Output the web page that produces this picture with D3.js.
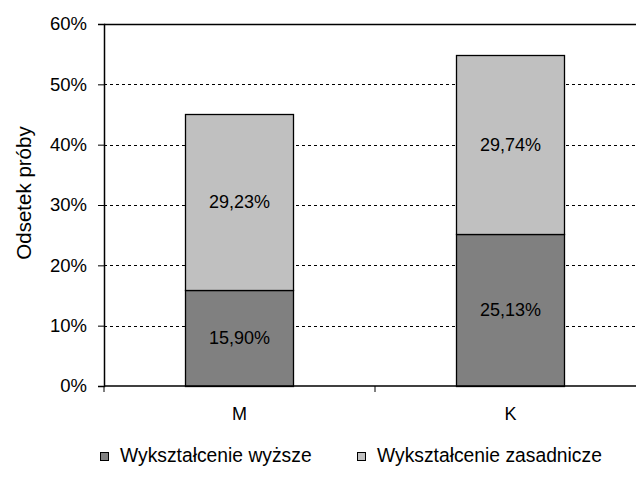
<!DOCTYPE html>
<html>
<head>
<meta charset="utf-8">
<script src="https://cdn.jsdelivr.net/npm/d3@7"></script>
<style>
    body { margin: 0; background: #fff; }
    svg { display: block; font-family: Arial, "Liberation Sans", sans-serif; }
</style>
</head>
<body>
<svg id="chart"></svg>
<script>
// data
var categories = ['M', 'K'];
var seriesNames = ['Wykształcenie wyższe', 'Wykształcenie zasadnicze'];
var higherValues = [15.90, 25.13];
var vocationalValues = [29.23, 29.74];
var yTicks = [0, 10, 20, 30, 40, 50, 60];
var seriesColors = ['#808080', '#c0c0c0'];

var svgWidth = 636;
var svgHeight = 482;
var margin = { top: 24, left: 104, bottom: 96 };
var plotRight = 646; // frame runs past the right edge of the picture

var svg = d3.select('svg#chart')
    .attr('width', svgWidth)
    .attr('height', svgHeight);

var x = d3.scaleBand()
    .domain(categories)
    .range([margin.left, plotRight])
    .paddingInner(0.6)
    .paddingOuter(0.3);

var bandX = d3.scaleBand()
    .domain(categories)
    .range([margin.left, plotRight]);

var y = d3.scaleLinear()
    .domain([0, 60])
    .range([svgHeight - margin.bottom, margin.top]);

// gridlines
svg.append('g')
    .selectAll('line')
    .data(yTicks.filter(function (d) { return d > 0 && d < 60; }))
    .enter()
    .append('line')
    .attr('x1', margin.left)
    .attr('x2', plotRight)
    .attr('y1', function (d) { return Math.round(y(d)) + 0.5; })
    .attr('y2', function (d) { return Math.round(y(d)) + 0.5; })
    .attr('stroke', '#000')
    .attr('stroke-dasharray', '3,3');

// top frame line
svg.append('line')
    .attr('x1', margin.left)
    .attr('x2', plotRight)
    .attr('y1', y(60) + 0.5)
    .attr('y2', y(60) + 0.5)
    .attr('stroke', '#000')
    .attr('stroke-width', 1.5);

// stacked bars
var stackRows = categories.map(function (c, i) {
    return { cat: c, s0: higherValues[i], s1: vocationalValues[i] };
});
var stacked = d3.stack().keys(['s0', 's1'])(stackRows);

var layer = svg.selectAll('g.layer')
    .data(stacked)
    .enter()
    .append('g')
    .attr('class', 'layer')
    .attr('fill', function (d, i) { return seriesColors[i]; });

layer.selectAll('rect')
    .data(function (d) { return d; })
    .enter()
    .append('rect')
    .attr('x', function (d) { return Math.round(x(d.data.cat)) + 0.5; })
    .attr('width', Math.round(x.bandwidth()))
    .attr('y', function (d) { return Math.round(y(d[1])) + 0.5; })
    .attr('height', function (d) { return Math.round(y(d[0])) - Math.round(y(d[1])); })
    .attr('stroke', '#000')
    .attr('stroke-width', 1.3);

// value labels
layer.selectAll('text')
    .data(function (d) { return d; })
    .enter()
    .append('text')
    .attr('x', function (d) { return x(d.data.cat) + x.bandwidth() / 2; })
    .attr('y', function (d) { return (y(d[0]) + y(d[1])) / 2; })
    .attr('dy', '0.35em')
    .attr('text-anchor', 'middle')
    .attr('fill', '#000')
    .attr('font-size', 18)
    .text(function (d) { return (d[1] - d[0]).toFixed(2).replace('.', ',') + '%'; });

// y axis
var yAxis = svg.append('g')
    .attr('transform', 'translate(' + margin.left + ',0)')
    .call(d3.axisLeft(y)
        .tickValues(yTicks)
        .tickSize(6)
        .tickPadding(11)
        .tickFormat(function (d) { return d + '%'; }));
yAxis.selectAll('text').attr('font-size', 18.5).attr('fill', '#000').attr('font-family', null);
yAxis.select('.domain').attr('stroke-width', 1.5);

// x axis with ticks at band edges
var xAxisG = svg.append('g')
    .attr('transform', 'translate(0,' + y(0) + ')');
xAxisG.append('line')
    .attr('x1', margin.left)
    .attr('x2', plotRight)
    .attr('stroke', '#000')
    .attr('stroke-width', 1.5);
xAxisG.selectAll('line.tick')
    .data(categories.concat(['end']))
    .enter()
    .append('line')
    .attr('class', 'tick')
    .attr('x1', function (d, i) { return margin.left + i * bandX.bandwidth(); })
    .attr('x2', function (d, i) { return margin.left + i * bandX.bandwidth(); })
    .attr('y1', 0)
    .attr('y2', 6)
    .attr('stroke', '#000');
xAxisG.selectAll('text')
    .data(categories)
    .enter()
    .append('text')
    .attr('x', function (d) { return x(d) + x.bandwidth() / 2; })
    .attr('y', 34)
    .attr('text-anchor', 'middle')
    .attr('font-size', 18)
    .text(function (d) { return d; });

// y title
svg.append('text')
    .attr('transform', 'translate(31,193) rotate(-90)')
    .attr('text-anchor', 'middle')
    .attr('font-size', 20.5)
    .text('Odsetek próby');

// legend
var legendX = [100, 357];
var legend = svg.append('g').attr('class', 'legend')
    .selectAll('g')
    .data(seriesNames)
    .enter()
    .append('g')
    .attr('transform', function (d, i) { return 'translate(' + legendX[i] + ',452)'; });
legend.append('rect')
    .attr('x', 0.5)
    .attr('y', 0.5)
    .attr('width', 8)
    .attr('height', 8)
    .attr('fill', function (d, i) { return seriesColors[i]; })
    .attr('stroke', '#000');
legend.append('text')
    .attr('x', 20)
    .attr('y', 10)
    .attr('font-size', 19.3)
    .text(function (d) { return d; });
</script>
</body>
</html>
